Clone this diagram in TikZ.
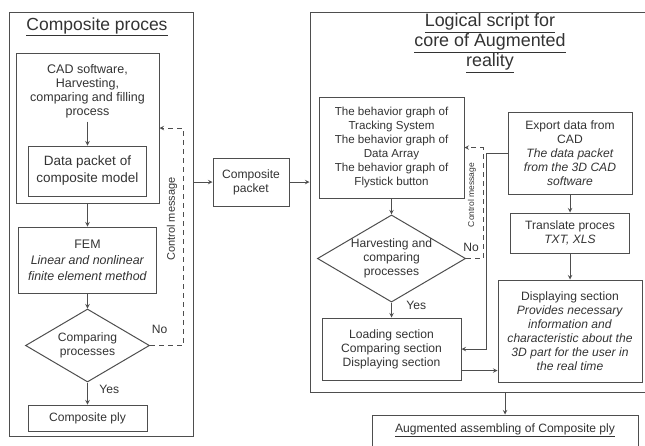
\documentclass[tikz,border=0pt]{standalone}
\usepackage{fontspec}
\setmainfont{Liberation Sans}
\usetikzlibrary{shapes.geometric, arrows, positioning, calc}

\definecolor{linegray}{HTML}{4E4E4E}
\definecolor{textgray}{HTML}{333333}

\begin{document}
\begin{tikzpicture}[
        x=1pt, y=-1pt,
        line width=1pt,
        every node/.style={text=textgray, align=center, font=\fontsize{12.1}{14}\selectfont},
        box/.style={rectangle, draw=linegray, inner sep=2pt},
        frame/.style={rectangle, draw=linegray},
        decision/.style={diamond, draw=linegray, inner sep=0pt, aspect=1.7},
        arrow/.style={draw=linegray, ->, >=stealth},
        feedback/.style={draw=linegray, dash pattern=on 5pt off 4pt, ->, >=stealth},
        title/.style={font=\fontsize{17.5}{20}\selectfont},
        note/.style={rotate=90, font=\fontsize{11}{12}\selectfont}
    ]
        \useasboundingbox (0,0) rectangle (645,445);

        % Composite process
        \node[frame, minimum width=184pt, minimum height=424pt] (compframe) at (101,224) {};
        \node[title] (comptitle) at (97,27) {\underline{Composite proces}};
        \node[frame, minimum width=143pt, minimum height=150pt] (cadbox) at (87.5,128) {};
        \node[font=\fontsize{12.5}{14}\selectfont] (cadtext) at (87.5,91) {CAD software,\\Harvesting,\\comparing and filling\\process};
        \node[box, minimum width=118pt, minimum height=50pt, font=\fontsize{13.5}{17}\selectfont] (datapacket) at (87.5,171) {Data packet of\\composite model};
        \node[box, minimum width=138pt, minimum height=66pt, font=\fontsize{12.4}{16}\selectfont] (fem) at (87.5,260) {FEM\\\textit{Linear and nonlinear}\\\textit{finite element method}};
        \node[decision, minimum width=124pt, minimum height=73pt] (cmpone) at (87.5,345.5) {Comparing\\processes};
        \node[box, minimum width=119pt, minimum height=26pt] (ply) at (87.5,418) {Composite ply};
        \node[note] (ctrlone) at (172,219) {Control message};

        % Composite packet
        \node[box, minimum width=76pt, minimum height=48pt] (packet) at (251,182) {Composite\\packet};

        % Logical script
        \node[frame, minimum width=336pt, minimum height=380pt] (logicframe) at (478,202) {};
        \node[title, font=\fontsize{17.9}{20}\selectfont] (logictitle) at (490,43) {\underline{Logical script for}\\\underline{core of Augmented}\\\underline{reality}};
        \node[box, minimum width=145pt, minimum height=101pt, font=\fontsize{11.6}{14}\selectfont] (behavior) at (391.5,147.5) {The behavior graph of\\Tracking System\\The behavior graph of\\Data Array\\The behavior graph of\\Flystick button};
        \node[decision, minimum width=147pt, minimum height=85pt] (cmptwo) at (391.5,258.5) {Harvesting and\\comparing\\processes};
        \node[box, minimum width=139pt, minimum height=62pt] (loading) at (391.5,349) {Loading section\\Comparing section\\Displaying section};
        \node[box, minimum width=124pt, minimum height=82pt] (export) at (570,153) {Export data from\\CAD\\\textit{The data packet}\\\textit{from the 3D CAD}\\\textit{software}};
        \node[box, minimum width=119pt, minimum height=40pt] (translate) at (570,233) {Translate proces\\\textit{TXT, XLS}};
        \node[box, minimum width=144pt, minimum height=102pt] (display) at (570,331) {Displaying section\\\textit{Provides necessary}\\\textit{information and}\\\textit{characteristic about the}\\\textit{3D part for the user in}\\\textit{the real time}};
        \node[note, font=\fontsize{8.5}{10}\selectfont] (ctrltwo) at (472,195) {Control message};

        % Result
        \node[box, minimum width=266pt, minimum height=50pt] (augment) at (505,440) {};
        \node (augtext) at (505,430) {\underline{Augmented assembling of Composite ply}};

        % Arrows
        \draw[arrow] (cadtext) -- (datapacket);
        \draw[arrow] (cadbox) -- (fem);
        \draw[arrow] (fem) -- (cmpone);
        \draw[arrow] (cmpone) -- node[pos=0.3, anchor=west, xshift=8pt] {Yes} (ply);
        \draw[feedback] (cmpone.east) node[anchor=south west, xshift=-2pt, yshift=8pt] {No} -- ++(33,0) |- (cadbox.east);
        \draw[arrow] (packet.west -| compframe.east) -- (packet.west);
        \draw[arrow] (packet.east) -- (packet.east -| logicframe.west);
        \draw[arrow] (behavior) -- (cmptwo);
        \draw[arrow] (cmptwo) -- node[pos=0.2, anchor=west, xshift=11pt] {Yes} (loading);
        \draw[feedback] (cmptwo.east) node[inner sep=0pt, xshift=5pt, yshift=11pt] {No} -- ++(17,0) |- (behavior.east);
        \draw[arrow] (export.west) -- ++(-21,0) |- (loading.east);
        \draw[arrow] (export) -- (translate);
        \draw[arrow] (translate) -- (display);
        \draw[arrow] ([yshift=10pt]loading.south east) -- ([yshift=10pt]loading.south east -| display.west);
        \draw[arrow] (augment.north |- logicframe.south) -- (augment.north);
    \end{tikzpicture}
\end{document}
